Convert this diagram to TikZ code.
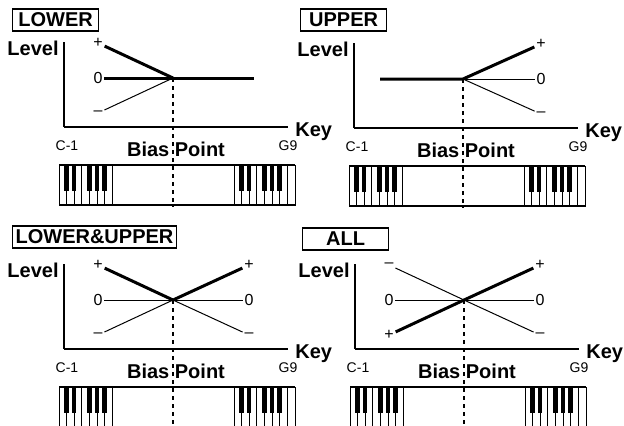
\documentclass[tikz,border=0pt]{standalone}
\usepackage{fontspec}
\setmainfont{Liberation Sans}
\usetikzlibrary{calc}

\tikzset{
  panellabel/.style={draw, line width=0.6pt, font=\fontsize{10}{12}\selectfont\bfseries,
    minimum width=43pt, minimum height=11pt, inner sep=1.5pt, anchor=west},
  axislabel/.style={font=\fontsize{10}{12}\selectfont\bfseries, inner sep=0pt},
  endlabel/.style={font=\fontsize{7}{8}\selectfont, inner sep=0pt},
  levelmark/.style={font=\fontsize{8}{9}\selectfont, inner sep=0.8pt},
  thickline/.style={line width=1.5pt},
  thinline/.style={line width=0.5pt},
  biasline/.style={line width=0.6pt, dash pattern=on 2pt off 2pt}
}

\begin{document}
\begin{tikzpicture}[x=0.5pt, y=-0.5pt]
\useasboundingbox (0,0) rectangle (624,425);
\clip (0,0) rectangle (624,425);

% the four panels: axes, texts, keyboard
\foreach \ox/\oy/\p in {64/127/a, 354/128/b, 64/349/c, 355/349/d}{
  \coordinate (o\p) at (\ox,\oy);
  \coordinate (t\p) at (\ox,\oy-85);
  \coordinate (x\p) at (\ox+224,\oy);
  \draw[line width=0.6pt] (t\p) -- (o\p);
  \draw[line width=0.9pt] (o\p) -- (x\p);
  \node[axislabel, anchor=base east] (lv\p) at (\ox-5,\oy-72) {Level};
  \node[axislabel, anchor=base west] (ky\p) at (\ox+231,\oy+9) {Key};
  \node[endlabel, anchor=base] (lo\p) at (\ox+3,\oy+23) {C-1};
  \node[endlabel, anchor=base] (hi\p) at (\ox+224,\oy+23) {G9};
  \node[axislabel, anchor=base] (bp\p) at (\ox+112,\oy+29) {Bias Point};
  \coordinate (j\p) at (\ox+109,\oy-49);
  \coordinate (k\p) at (\ox+109,\oy+80);
  % keyboard
  \draw[thinline] (\ox-5,\oy+38) rectangle (\ox+231,\oy+78);
  \draw[line width=1.2pt] (\ox-5,\oy+38) -- (\ox+231,\oy+38);
  \draw[line width=1.2pt] (\ox-5,\oy+78) -- (\ox+231,\oy+78);
  \foreach \k in {1,...,7}
    \draw[thinline] (\ox-5+\k*7.6,\oy+38) -- ++(0,40);
  \foreach \k in {0,...,7}
    \draw[thinline] (\ox+170+\k*7.6,\oy+38) -- ++(0,40);
  \foreach \k in {1,2,4,5,6}{
    \fill (\ox-5+\k*7.6-2.2,\oy+38) rectangle ++(4.4,26);
    \fill (\ox+170+\k*7.6-2.2,\oy+38) rectangle ++(4.4,26);
  }
  \draw[biasline] (j\p) -- (k\p);
}

% panel labels
\node[panellabel] (lower) at (12,20) {LOWER};
\node[panellabel] (upper) at (300,20) {UPPER};
\node[panellabel] (lowup) at (12,237) {LOWER\&UPPER};
\node[panellabel] (all) at (302,239) {ALL};

% LOWER
\node[levelmark] (ap) at (98,43) {+};
\node[levelmark] (az) at (98,78) {0};
\node[levelmark] (am) at (98,113) {–};
\coordinate (ae) at (254,78);
\draw[thickline] (ap) -- (ja);
\draw[thinline] (am) -- (ja);
\draw[thickline] (az) -- (ja) -- (ae);

% UPPER
\coordinate (bs) at (380,79);
\node[levelmark] (bp) at (541,44) {+};
\node[levelmark] (bz) at (541,79) {0};
\node[levelmark] (bm) at (541,114) {–};
\draw[thickline] (bs) -- (jb) -- (bp);
\draw[thinline] (jb) -- (bz);
\draw[thinline] (jb) -- (bm);

% LOWER&UPPER
\node[levelmark] (cp) at (98,265) {+};
\node[levelmark] (cz) at (98,300) {0};
\node[levelmark] (cm) at (98,335) {–};
\node[levelmark] (cq) at (249,265) {+};
\node[levelmark] (cy) at (249,300) {0};
\node[levelmark] (cn) at (249,335) {–};
\draw[thickline] (cp) -- (jc) -- (cq);
\draw[thinline] (cm) -- (jc) -- (cn);
\draw[thinline] (cz) -- (cy);

% ALL
\node[levelmark] (dm) at (389,265) {–};
\node[levelmark] (dz) at (389,300) {0};
\node[levelmark] (dp) at (389,335) {+};
\node[levelmark] (dq) at (540,265) {+};
\node[levelmark] (dy) at (540,300) {0};
\node[levelmark] (dn) at (540,335) {–};
\draw[thickline] (dp) -- (jd) -- (dq);
\draw[thinline] (dm) -- (jd) -- (dn);
\draw[thinline] (dz) -- (dy);
\end{tikzpicture}
\end{document}
